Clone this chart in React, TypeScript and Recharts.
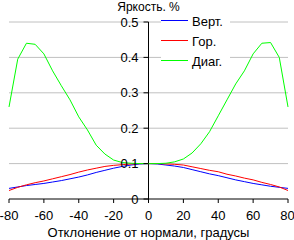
import {
  LineChart,
  Line,
  XAxis,
  YAxis,
  CartesianGrid,
  ReferenceLine,
  ReferenceDot,
  Legend,
} from "recharts";

// viewing angle, degrees
const angles = [
  -80, -75, -70, -65, -60, -55, -50, -45, -40, -35, -30, -25, -20, -15, -10, -5, 0,
  5, 10, 15, 20, 25, 30, 35, 40, 45, 50, 55, 60, 65, 70, 75, 80,
];

// brightness, %
const vert = [
  0.03, 0.034, 0.038, 0.041, 0.044, 0.048, 0.052, 0.057, 0.062, 0.068, 0.075, 0.081,
  0.087, 0.092, 0.096, 0.099, 0.1, 0.099, 0.096, 0.093, 0.089, 0.083, 0.077, 0.071,
  0.066, 0.06, 0.054, 0.049, 0.044, 0.04, 0.036, 0.033, 0.03,
];
const hor = [
  0.024, 0.033, 0.04, 0.046, 0.051, 0.057, 0.063, 0.069, 0.076, 0.082, 0.087, 0.092,
  0.095, 0.097, 0.099, 0.1, 0.1, 0.1, 0.099, 0.098, 0.096, 0.091, 0.086, 0.081, 0.077,
  0.07, 0.065, 0.059, 0.054, 0.047, 0.041, 0.034, 0.024,
];
const diag = [
  0.26, 0.395, 0.44, 0.437, 0.41, 0.362, 0.32, 0.28, 0.232, 0.195, 0.152, 0.127, 0.11,
  0.103, 0.101, 0.1, 0.1, 0.1, 0.101, 0.105, 0.113, 0.13, 0.156, 0.19, 0.235, 0.28,
  0.325, 0.362, 0.41, 0.44, 0.442, 0.4, 0.26,
];

const seriesKeys = ["vert", "hor", "diag"];
const seriesNames = ["Верт.", "Гор.", "Диаг."];
const seriesColors = ["#0000ff", "#ff0000", "#00ff00"];

const xTicks = [-80, -60, -40, -20, 0, 20, 40, 60, 80];
const yTicks = [0, 0.1, 0.2, 0.3, 0.4, 0.5];
const yLabels = ["0", "0.1", "0.2", "0.3", "0.4", "0.5"];

const data = angles.map((a, i) => ({ a, vert: vert[i], hor: hor[i], diag: diag[i] }));

const font = "'Liberation Sans', Arial, sans-serif";

// y axis sits at x = 0, so its ticks and labels are drawn at that point
function YTick(props: any) {
  const { cx, cy, label } = props;
  return (
    <g>
      <line x1={cx - 5} x2={cx} y1={cy} y2={cy} stroke="#000" />
      <text
        x={cx - 10}
        y={cy}
        textAnchor="end"
        dominantBaseline="central"
        fontSize={13}
        fontFamily={font}
        fill="#000"
      >
        {label}
      </text>
    </g>
  );
}

function LegendBox() {
  return (
    <div style={{ background: "#fff", width: 69 }}>
      {seriesNames.map((name, i) => (
        <div
          key={name}
          style={{ display: "flex", alignItems: "center", height: 20, fontSize: 13, fontFamily: font }}
        >
          <svg width={27} height={20} style={{ marginRight: 4, display: "block" }}>
            <line x1={0} x2={27} y1={9.5} y2={9.5} stroke={seriesColors[i]} strokeWidth={1} />
          </svg>
          <span>{name}</span>
        </div>
      ))}
    </div>
  );
}

export default function App() {
  return (
    <div style={{ position: "absolute", left: 0, top: 0, background: "#fff" }}>
      <LineChart
        width={294}
        height={240}
        data={data}
        margin={{ top: 22, right: 6, bottom: 11, left: 9 }}
      >
        <CartesianGrid
          vertical={false}
          stroke="#c0c0c0"
          horizontalValues={[0.1, 0.2, 0.3, 0.4, 0.5]}
        />
        <XAxis
          dataKey="a"
          type="number"
          domain={[-80, 80]}
          ticks={xTicks}
          height={30}
          stroke="#000"
          tickSize={4}
          tickMargin={8}
          tick={{ fill: "#000", fontSize: 13, fontFamily: font }}
          label={{
            value: "Отклонение от нормали, градусы",
            position: "insideBottom",
            offset: -8,
            fill: "#000",
            fontSize: 13,
            fontFamily: font,
          }}
        />
        <YAxis hide domain={[0, 0.5]} ticks={yTicks} />
        <ReferenceLine
          x={0}
          stroke="#000"
          label={{
            value: "Яркость, %",
            position: "top",
            offset: 11,
            fill: "#000",
            fontSize: 12,
            fontFamily: font,
          }}
        />
        {yTicks.map((v, i) => (
          <ReferenceDot
            key={v}
            x={0}
            y={v}
            r={0}
            ifOverflow="visible"
            shape={(p: any) => <YTick {...p} label={yLabels[i]} />}
          />
        ))}
        <Legend
          layout="vertical"
          verticalAlign="middle"
          align="center"
          content={<LegendBox />}
          wrapperStyle={{ left: 161, top: 11, width: 69 }}
        />
        {seriesKeys.map((k, i) => (
          <Line
            key={k}
            dataKey={k}
            name={seriesNames[i]}
            stroke={seriesColors[i]}
            dot={false}
            strokeWidth={1}
            type="linear"
            isAnimationActive={false}
          />
        ))}
      </LineChart>
    </div>
  );
}
